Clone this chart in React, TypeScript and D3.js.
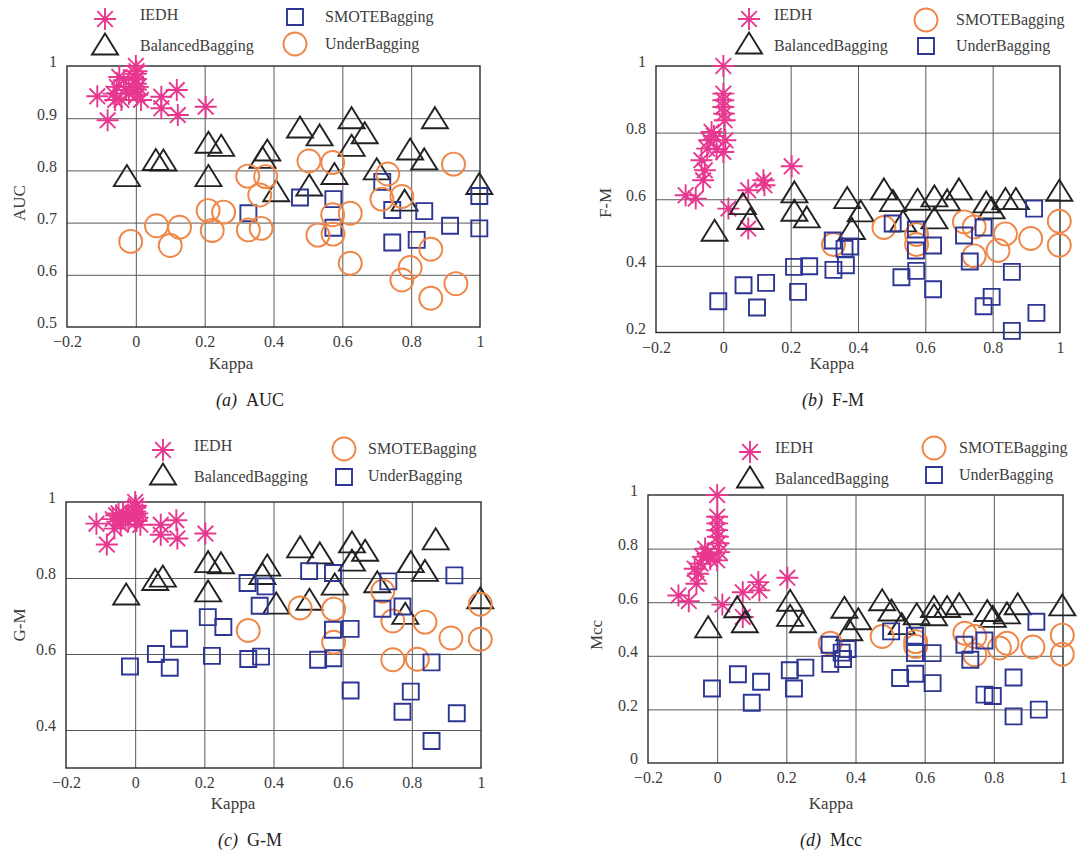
import { useEffect, useRef } from 'react'
import * as d3 from 'd3'

// Kappa of each method (x), one entry per data set
const iedhKappa = [-0.112, -0.082, -0.065, -0.06, -0.055, -0.048, -0.042, -0.035, -0.028, -0.02, 0.0, 0.0, 0.0, 0.0, 0.0, 0.002, 0.004, 0.006, 0.015, 0.074, 0.074, 0.119, 0.122, 0.203]
const balancedKappa = [-0.026, 0.058, 0.08, 0.211, 0.211, 0.248, 0.368, 0.382, 0.408, 0.477, 0.504, 0.534, 0.577, 0.627, 0.627, 0.665, 0.7, 0.781, 0.797, 0.838, 0.869, 0.998]
const smoteKappa = [0.327, 0.477, 0.574, 0.574, 0.716, 0.745, 0.745, 0.838, 0.816, 0.913, 0.998, 0.998]
const underKappa = [-0.015, 0.06, 0.1, 0.127, 0.21, 0.222, 0.255, 0.325, 0.377, 0.36, 0.327, 0.364, 0.503, 0.529, 0.572, 0.572, 0.573, 0.623, 0.623, 0.732, 0.715, 0.773, 0.773, 0.797, 0.857, 0.857, 0.923, 0.93]

// AUC
const aucIEDH = [0.942, 0.896, 0.947, 0.935, 0.96, 0.979, 0.935, 0.973, 0.954, 0.947, 0.966, 1.0, 0.985, 0.975, 0.955, 0.99, 0.945, 0.96, 0.935, 0.941, 0.919, 0.954, 0.906, 0.922]
const aucBalanced = [0.79, 0.821, 0.82, 0.854, 0.79, 0.848, 0.825, 0.839, 0.761, 0.883, 0.772, 0.868, 0.794, 0.901, 0.848, 0.872, 0.803, 0.743, 0.841, 0.822, 0.901, 0.775]
const aucSMOTE = [0.718, 0.748, 0.745, 0.69, 0.778, 0.724, 0.662, 0.722, 0.667, 0.694, 0.751, 0.689]
const aucUnder = [0.664, 0.694, 0.656, 0.691, 0.723, 0.685, 0.72, 0.789, 0.788, 0.753, 0.686, 0.689, 0.818, 0.676, 0.815, 0.715, 0.678, 0.718, 0.622, 0.793, 0.745, 0.75, 0.59, 0.614, 0.649, 0.555, 0.812, 0.583]

// F-M
const fmIEDH = [0.612, 0.602, 0.717, 0.657, 0.687, 0.752, 0.777, 0.802, 0.79, 0.75, 0.742, 1.0, 0.917, 0.897, 0.877, 0.857, 0.837, 0.777, 0.572, 0.627, 0.512, 0.657, 0.642, 0.699]
const fmBalanced = [0.507, 0.587, 0.542, 0.622, 0.567, 0.547, 0.605, 0.512, 0.565, 0.631, 0.596, 0.535, 0.6, 0.61, 0.544, 0.598, 0.631, 0.592, 0.574, 0.602, 0.602, 0.627]
const fmSMOTE = [0.464, 0.515, 0.494, 0.464, 0.532, 0.517, 0.43, 0.496, 0.446, 0.482, 0.534, 0.462]
const fmUnder = [0.294, 0.342, 0.275, 0.349, 0.397, 0.322, 0.399, 0.476, 0.458, 0.451, 0.388, 0.402, 0.527, 0.366, 0.509, 0.446, 0.385, 0.461, 0.33, 0.413, 0.491, 0.515, 0.279, 0.307, 0.382, 0.205, 0.572, 0.259]

// G-M
const gmIEDH = [0.943, 0.888, 0.955, 0.93, 0.965, 0.97, 0.94, 0.97, 0.955, 0.95, 0.965, 1.0, 0.985, 0.975, 0.96, 0.99, 0.95, 0.97, 0.94, 0.94, 0.914, 0.952, 0.904, 0.917]
const gmBalanced = [0.758, 0.796, 0.805, 0.843, 0.766, 0.84, 0.812, 0.834, 0.734, 0.882, 0.744, 0.866, 0.784, 0.895, 0.847, 0.873, 0.79, 0.707, 0.843, 0.82, 0.903, 0.748]
const gmSMOTE = [0.662, 0.721, 0.718, 0.631, 0.765, 0.687, 0.585, 0.684, 0.586, 0.642, 0.731, 0.639]
const gmUnder = [0.567, 0.6, 0.564, 0.64, 0.697, 0.595, 0.671, 0.787, 0.778, 0.727, 0.587, 0.593, 0.818, 0.585, 0.813, 0.664, 0.589, 0.666, 0.504, 0.791, 0.719, 0.725, 0.448, 0.501, 0.578, 0.371, 0.807, 0.444]

// Mcc
const mccIEDH = [0.625, 0.604, 0.725, 0.669, 0.706, 0.744, 0.769, 0.8, 0.78, 0.76, 0.756, 1.0, 0.919, 0.894, 0.869, 0.844, 0.82, 0.787, 0.591, 0.637, 0.545, 0.675, 0.644, 0.691]
const mccBalanced = [0.508, 0.583, 0.527, 0.607, 0.551, 0.527, 0.581, 0.497, 0.538, 0.609, 0.571, 0.52, 0.557, 0.584, 0.553, 0.584, 0.594, 0.569, 0.547, 0.56, 0.594, 0.59]
const mccSMOTE = [0.447, 0.472, 0.453, 0.435, 0.484, 0.472, 0.404, 0.447, 0.429, 0.433, 0.477, 0.406]
const mccUnder = [0.278, 0.331, 0.225, 0.303, 0.346, 0.278, 0.356, 0.441, 0.425, 0.412, 0.37, 0.388, 0.491, 0.317, 0.475, 0.41, 0.333, 0.41, 0.298, 0.385, 0.441, 0.457, 0.255, 0.25, 0.319, 0.174, 0.527, 0.199]

const xTicks = [-0.2, 0, 0.2, 0.4, 0.6, 0.8, 1]

type Marker = 'star' | 'triangle' | 'square' | 'circle'

const colors: Record<Marker, string> = {
  star: '#e8378f',
  triangle: '#222222',
  square: '#2e3694',
  circle: '#ef8748'
}

function markerPath(m: Marker) {
  if (m === 'star') {
    const r = 11
    const d = 7.8
    return `M0,${-r}V${r}M${-r},0H${r}M${-d},${-d}L${d},${d}M${-d},${d}L${d},${-d}`
  }
  if (m === 'triangle') return 'M0,-10.5L13,10.5L-13,10.5Z'
  if (m === 'square') return 'M-8,-8H8V8H-8Z'
  return 'M11.5,0A11.5,11.5 0 1 1 -11.5,0A11.5,11.5 0 1 1 11.5,0Z'
}

interface Panel {
  letter: string
  metric: string
  box: [number, number, number, number]
  yDomain: [number, number]
  yTicks: number[]
  series: { name: string; marker: Marker; kappa: number[]; values: number[] }[]
  yLabelPos: [number, number]
  kappaPos: [number, number]
  captionPos: [number, number]
  legendX: [number, number, number, number]
  legendMarkerY: [number, number, number, number]
  legendTextY: [number, number, number, number]
}

const panels: Panel[] = [
  {
    letter: 'a', metric: 'AUC',
    box: [67, 480, 66, 327], yDomain: [0.5, 1], yTicks: [0.5, 0.6, 0.7, 0.8, 0.9, 1],
    series: [
      { name: 'IEDH', marker: 'star', kappa: iedhKappa, values: aucIEDH },
      { name: 'BalancedBagging', marker: 'triangle', kappa: balancedKappa, values: aucBalanced },
      { name: 'SMOTEBagging', marker: 'square', kappa: smoteKappa, values: aucSMOTE },
      { name: 'UnderBagging', marker: 'circle', kappa: underKappa, values: aucUnder }
    ],
    yLabelPos: [19, 203], kappaPos: [231, 363], captionPos: [250, 400],
    legendX: [105, 140, 295, 325], legendMarkerY: [19, 44, 17, 44], legendTextY: [14, 45, 16, 43]
  },
  {
    letter: 'b', metric: 'F-M',
    box: [656, 1060, 66, 332.5], yDomain: [0.2, 1], yTicks: [0.2, 0.4, 0.6, 0.8, 1],
    series: [
      { name: 'IEDH', marker: 'star', kappa: iedhKappa, values: fmIEDH },
      { name: 'BalancedBagging', marker: 'triangle', kappa: balancedKappa, values: fmBalanced },
      { name: 'SMOTEBagging', marker: 'circle', kappa: smoteKappa, values: fmSMOTE },
      { name: 'UnderBagging', marker: 'square', kappa: underKappa, values: fmUnder }
    ],
    yLabelPos: [605, 203], kappaPos: [832, 363], captionPos: [833, 400],
    legendX: [749, 774, 926, 956], legendMarkerY: [19, 43, 20, 46], legendTextY: [14, 45, 19, 45]
  },
  {
    letter: 'c', metric: 'G-M',
    box: [66, 481, 502, 768], yDomain: [0.3, 1], yTicks: [0.4, 0.6, 0.8, 1],
    series: [
      { name: 'IEDH', marker: 'star', kappa: iedhKappa, values: gmIEDH },
      { name: 'BalancedBagging', marker: 'triangle', kappa: balancedKappa, values: gmBalanced },
      { name: 'SMOTEBagging', marker: 'circle', kappa: smoteKappa, values: gmSMOTE },
      { name: 'UnderBagging', marker: 'square', kappa: underKappa, values: gmUnder }
    ],
    yLabelPos: [19, 625], kappaPos: [233, 803], captionPos: [250, 840],
    legendX: [163, 194, 344, 368], legendMarkerY: [450, 474, 449, 477], legendTextY: [445, 476, 448, 475]
  },
  {
    letter: 'd', metric: 'Mcc',
    box: [648, 1063, 495, 763], yDomain: [0, 1], yTicks: [0, 0.2, 0.4, 0.6, 0.8, 1],
    series: [
      { name: 'IEDH', marker: 'star', kappa: iedhKappa, values: mccIEDH },
      { name: 'BalancedBagging', marker: 'triangle', kappa: balancedKappa, values: mccBalanced },
      { name: 'SMOTEBagging', marker: 'circle', kappa: smoteKappa, values: mccSMOTE },
      { name: 'UnderBagging', marker: 'square', kappa: underKappa, values: mccUnder }
    ],
    yLabelPos: [596, 635], kappaPos: [831, 803], captionPos: [831, 840],
    legendX: [750, 775, 934, 959], legendMarkerY: [452, 477, 448, 475], legendTextY: [447, 478, 447, 474]
  }
]

const font = 'Liberation Serif, Times New Roman, serif'
const textColor = '#3c3c3c'
const fmt = d3.format('~g')

export default function App() {
  const svgRef = useRef<SVGSVGElement>(null)

  useEffect(() => {
    if (!svgRef.current) return
    const svg = d3.select(svgRef.current)
    svg.selectAll('*').remove()

    panels.forEach(p => {
      const [left, right, top, bottom] = p.box
      const x = d3.scaleLinear().domain([-0.2, 1]).range([left, right])
      const y = d3.scaleLinear().domain(p.yDomain).range([bottom, top])
      const g = svg.append('g')

      // grid
      g.append('g')
        .attr('transform', `translate(0,${bottom})`)
        .call(d3.axisBottom(x).tickValues(xTicks.slice(1, -1)).tickSize(-(bottom - top)).tickFormat(() => ''))
        .call(s => s.select('.domain').remove())
        .call(s => s.selectAll('.tick line').attr('stroke', '#5a5a5a').attr('stroke-width', 1))
      g.append('g')
        .attr('transform', `translate(${left},0)`)
        .call(d3.axisLeft(y).tickValues(p.yTicks.filter(t => t > p.yDomain[0] && t < p.yDomain[1])).tickSize(-(right - left)).tickFormat(() => ''))
        .call(s => s.select('.domain').remove())
        .call(s => s.selectAll('.tick line').attr('stroke', '#5a5a5a').attr('stroke-width', 1))

      g.append('rect')
        .attr('x', left).attr('y', top)
        .attr('width', right - left).attr('height', bottom - top)
        .attr('fill', 'none').attr('stroke', '#2a2a2a').attr('stroke-width', 1.4)

      // tick labels
      g.append('g')
        .attr('transform', `translate(0,${bottom})`)
        .call(d3.axisBottom(x).tickValues(xTicks).tickSize(0).tickPadding(9).tickFormat(d => fmt(d as number)))
        .call(s => s.select('.domain').remove())
        .call(s => s.selectAll('.tick text').attr('fill', textColor).style('font-size', '16px').style('font-family', font))
      g.append('g')
        .attr('transform', `translate(${left},0)`)
        .call(d3.axisLeft(y).tickValues(p.yTicks).tickSize(0).tickPadding(10).tickFormat(d => fmt(d as number)))
        .call(s => s.select('.domain').remove())
        .call(s => s.selectAll('.tick text').attr('fill', textColor).style('font-size', '16px').style('font-family', font).attr('dy', '0.05em'))

      // axis titles
      g.append('text')
        .attr('x', p.kappaPos[0]).attr('y', p.kappaPos[1])
        .attr('text-anchor', 'middle').attr('dominant-baseline', 'central')
        .style('font-family', font).style('font-size', '17px').attr('fill', textColor)
        .text('Kappa')
      g.append('text')
        .attr('transform', `translate(${p.yLabelPos[0]},${p.yLabelPos[1]}) rotate(-90)`)
        .attr('text-anchor', 'middle').attr('dominant-baseline', 'central')
        .style('font-family', font).style('font-size', '17px').attr('fill', textColor)
        .text(p.metric)

      const cap = g.append('text')
        .attr('x', p.captionPos[0]).attr('y', p.captionPos[1])
        .attr('text-anchor', 'middle').attr('dominant-baseline', 'central')
        .style('font-family', font).style('font-size', '18px').attr('fill', '#222')
      cap.append('tspan').attr('font-style', 'italic').text(`(${p.letter})`)
      cap.append('tspan').text(`\u2002${p.metric}`)

      // points
      p.series.forEach(s => {
        g.append('g')
          .selectAll('path')
          .data(s.values.map((v, i) => ({ k: s.kappa[i], v })))
          .join('path')
          .attr('transform', d => `translate(${x(d.k)},${y(d.v)})`)
          .attr('d', markerPath(s.marker))
          .attr('fill', 'none')
          .attr('stroke', colors[s.marker])
          .attr('stroke-width', 1.9)
      })

      // legend: two columns of two entries
      p.series.forEach((s, i) => {
        const col = i < 2 ? 0 : 1
        const mx = p.legendX[col * 2]
        const tx = p.legendX[col * 2 + 1]
        g.append('path')
          .attr('transform', `translate(${mx},${p.legendMarkerY[i]})`)
          .attr('d', markerPath(s.marker))
          .attr('fill', 'none')
          .attr('stroke', colors[s.marker])
          .attr('stroke-width', 1.9)
        g.append('text')
          .attr('x', tx).attr('y', p.legendTextY[i])
          .attr('dominant-baseline', 'central')
          .style('font-family', font).style('font-size', '16px').attr('fill', textColor)
          .text(s.name)
      })
    })
  }, [])

  return (
    <svg
      ref={svgRef}
      width={1079}
      height={852}
      style={{ position: 'absolute', left: 0, top: 0, background: '#fff' }}
    />
  )
}
